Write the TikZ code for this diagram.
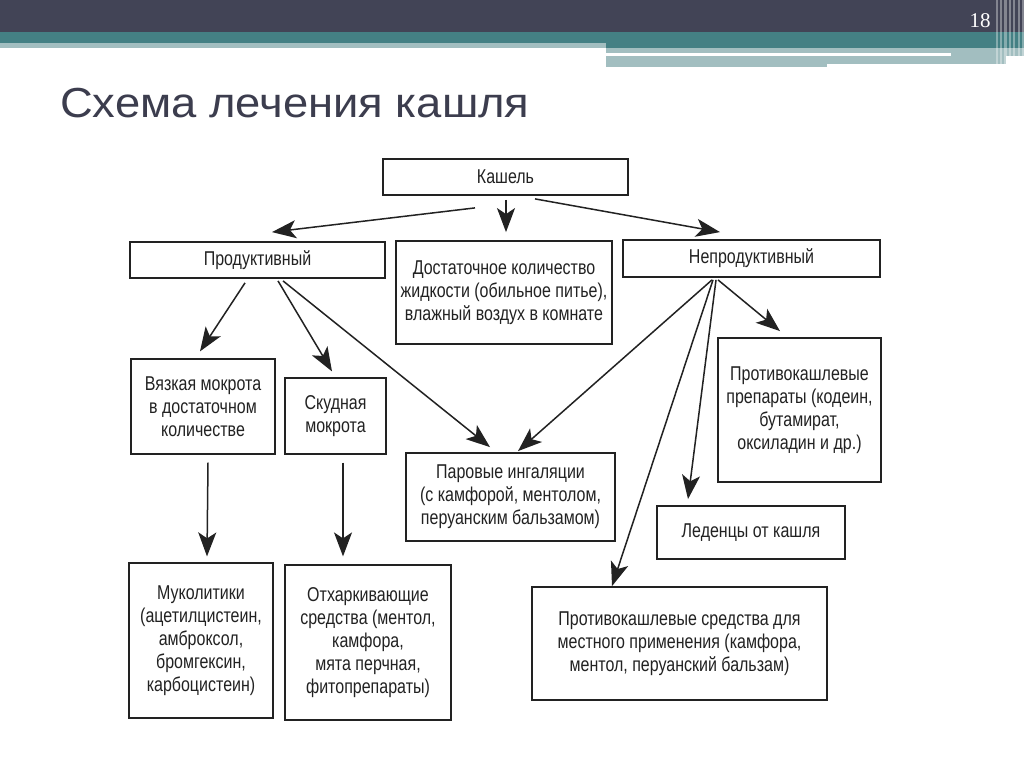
\documentclass[tikz,border=0pt]{standalone}
\usepackage{fontspec}
\setmainfont{Liberation Sans}
\newfontfamily\dfont[FakeStretch=0.8]{Liberation Sans}
\newfontfamily\tfont[FakeStretch=1.08]{Liberation Sans}
\newfontfamily\nfont{Liberation Serif}
\usetikzlibrary{arrows.meta}
\definecolor{darkbar}{HTML}{424456}
\definecolor{tealbar}{HTML}{448084}
\definecolor{lightteal}{HTML}{A2BEC0}
\definecolor{titlecol}{HTML}{3C3D4E}
\definecolor{txt}{HTML}{222222}
\tikzset{
  box/.style={draw=txt, line width=1.8pt, fill=white, align=center, inner sep=2pt,
    font=\dfont\fontsize{20}{23}\selectfont, text=txt},
  arr/.style={draw=txt, line width=1.5pt, -{Stealth[length=24pt, width=18pt, inset=6pt]}},
}
\begin{document}
\begin{tikzpicture}[x=1pt, y=-1pt]
\useasboundingbox (0,0) rectangle (1024,767);
\fill[white] (0,0) rectangle (1024,767);
% header
\fill[darkbar] (0,0) rectangle (1024,32);
\fill[tealbar] (0,32) rectangle (1024,43);
\fill[lightteal] (0,43) rectangle (606,48);
\fill[tealbar] (606,43) rectangle (1024,48);
\fill[lightteal] (606,48) rectangle (1024,53);
\fill[white] (606,53) rectangle (951,56);
\fill[lightteal] (951,53) rectangle (1024,56);
\fill[lightteal] (606,56) rectangle (1006,67);
\fill[white] (827,64) rectangle (1006,67);
\foreach \xx/\ww in {996/2, 1000/1.5, 1004/2.5, 1009/1.5, 1013/2, 1018/1.5, 1022/2}
  \fill[white, opacity=0.35] (\xx,0) rectangle (\xx+\ww,66);
\node[font=\nfont\fontsize{21}{21}\selectfont, text=white] (pnum) at (980,21) {18};
% title
\node[anchor=base west, font=\tfont\fontsize{42}{42}\selectfont, text=titlecol, inner sep=0pt] (title) at (60,118) {Схема лечения кашля};
% boxes
\node[box, minimum width=245pt, minimum height=36pt] (kash) at (505.5,177) {Кашель};
\node[box, minimum width=255pt, minimum height=36pt] (prod) at (257.5,260) {Продуктивный};
\node[box, minimum width=216pt, minimum height=103pt] (dost) at (504,292.5) {Достаточное количество\\жидкости (обильное питье),\\влажный воздух в комнате};
\node[box, minimum width=257pt, minimum height=37pt] (neprod) at (751.5,258.5) {Непродуктивный};
\node[box, line width=1.2pt, minimum width=144pt, minimum height=95pt] (vyaz) at (203,406.5) {Вязкая мокрота\\в достаточном\\количестве};
\node[box, line width=1.2pt, minimum width=101pt, minimum height=76pt] (skud) at (335.5,416) {Скудная\\мокрота};
\node[box, minimum width=209pt, minimum height=88pt] (parov) at (510.5,497) {Паровые ингаляции\\(с камфорой, ментолом,\\перуанским бальзамом)};
\node[box, minimum width=163pt, minimum height=144pt] (protiv) at (799.5,410) {Противокашлевые\\препараты (кодеин,\\бутамират,\\оксиладин и др.)};
\node[box, minimum width=188pt, minimum height=53pt] (leden) at (751,532.5) {Леденцы от кашля};
\node[box, minimum width=295pt, minimum height=113pt] (mestn) at (679.5,643.5) {Противокашлевые средства для\\местного применения (камфора,\\ментол, перуанский бальзам)};
\node[box, line width=1.2pt, minimum width=144pt, minimum height=155pt] (muko) at (201,640.5) {Муколитики\\(ацетилцистеин,\\амброксол,\\бромгексин,\\карбоцистеин)};
\node[box, line width=1.2pt, minimum width=166pt, minimum height=155pt] (otkh) at (368,642.5) {Отхаркивающие\\средства (ментол,\\камфора,\\мята перчная,\\фитопрепараты)};
% arrows
\draw[arr] ([shift={(-30.5,12)}]kash.south) -- ([shift={(14.5,-9)}]prod.north);
\draw[arr] ([shift={(0.5,4)}]kash.south) -- ([shift={(2,-8)}]dost.north);
\draw[arr] ([shift={(29.5,3)}]kash.south) -- ([shift={(-31.5,-7)}]neprod.north);
\draw[arr] ([shift={(-12.5,4)}]prod.south) -- ([shift={(-3,-7)}]vyaz.north);
\draw[arr] ([shift={(20.5,2)}]prod.south) -- ([shift={(-3.5,-6)}]skud.north);
\draw[arr] ([shift={(25.5,2)}]prod.south) -- ([shift={(-20.5,-5)}]parov.north);
\draw[arr] ([shift={(-39.5,2)}]neprod.south) -- ([shift={(7.5,-1)}]parov.north);
\draw[arr] ([shift={(-33.5,2)}]neprod.south) -- ([shift={(-19.5,-6)}]protiv.north);
\draw[arr] ([shift={(-35.5,2)}]neprod.south) -- ([shift={(-63,-6)}]leden.north);
\draw[arr] ([shift={(-38.5,2)}]neprod.south) -- ([shift={(-67.5,0)}]mestn.north);
\draw[arr] ([shift={(5,8)}]vyaz.south) -- ([shift={(6,-6)}]muko.north);
\draw[arr] ([shift={(7.5,8)}]skud.south) -- ([shift={(-25,-8)}]otkh.north);
\end{tikzpicture}
\end{document}
